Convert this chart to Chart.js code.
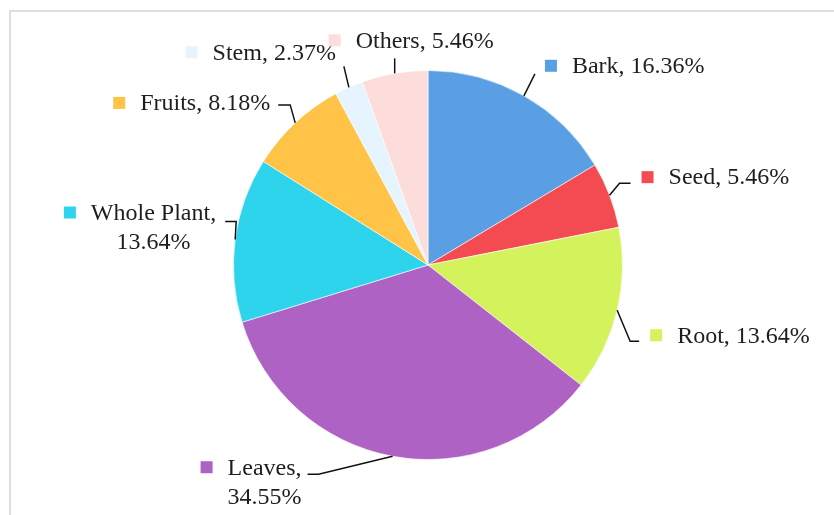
<!DOCTYPE html>
<html>
<head>
<meta charset="utf-8">
<script src="https://cdn.jsdelivr.net/npm/chart.js@4/dist/chart.umd.min.js"></script>
<style>
  html, body { margin: 0; padding: 0; background: #fff; }
  .canvas { position: relative; width: 834px; height: 515px; }
</style>
</head>
<body>
<div class="canvas">
  <canvas id="chart" width="834" height="515"></canvas>
</div>
<script>
const labels = ['Bark', 'Seed', 'Root', 'Leaves', 'Whole Plant', 'Fruits', 'Stem', 'Others']
const shares = [16.36, 5.46, 13.64, 34.55, 13.64, 8.18, 2.37, 5.46]
const colors = ['#5a9fe3', '#f44b52', '#d4f25c', '#ae62c4', '#2ed3ec', '#ffc347', '#e6f4fd', '#fddcdc']

// leader line + label placement, relative to the point on the rim at mid angle
const labelLayout = [
  { elbow: [11, -22], tail: 0, at: [10, -8], align: 'left', split: false },
  { elbow: [10, -12], tail: 11, at: [11, -6], align: 'left', split: false },
  { elbow: [13, 31], tail: 9, at: [11, -6], align: 'left', split: false },
  { elbow: [-74, 18], tail: -11, at: [-6, -7], align: 'right', split: true },
  { elbow: [1, -18], tail: -11, at: [-9, -9], align: 'right', split: true },
  { elbow: [-5, -18], tail: -12, at: [-8, -2], align: 'right', split: false },
  { elbow: [-5, -21], tail: 0, at: [-8, -14], align: 'right', split: false },
  { elbow: [0, -15], tail: 0, at: [-66, -18], align: 'left', split: false }
]

const FONT = '24px "Liberation Serif", "Times New Roman", serif'
const LINE_H = 29
const BOX = 12
const GAP = 15

const framePlugin = {
  id: 'frame',
  beforeDraw (chart) {
    const ctx = chart.ctx
    ctx.save()
    ctx.strokeStyle = '#dedede'
    ctx.lineWidth = 2
    ctx.beginPath()
    ctx.moveTo(10, chart.height)
    ctx.lineTo(10, 11)
    ctx.lineTo(chart.width, 11)
    ctx.stroke()
    ctx.restore()
  }
}

const calloutPlugin = {
  id: 'callouts',
  afterDatasetsDraw (chart) {
    const ctx = chart.ctx
    const meta = chart.getDatasetMeta(0)
    ctx.save()
    ctx.font = FONT
    ctx.textBaseline = 'middle'
    meta.data.forEach((arc, i) => {
      const lay = labelLayout[i]
      const p = arc.getProps(['x', 'y', 'startAngle', 'endAngle', 'outerRadius'], true)
      const mid = (p.startAngle + p.endAngle) / 2
      const sx = p.x + Math.cos(mid) * p.outerRadius
      const sy = p.y + Math.sin(mid) * p.outerRadius
      const ex = sx + lay.elbow[0]
      const ey = sy + lay.elbow[1]
      const tx = ex + lay.tail
      // leader line
      ctx.strokeStyle = '#111'
      ctx.lineWidth = 1.5
      ctx.beginPath()
      ctx.moveTo(sx, sy)
      ctx.lineTo(ex, ey)
      if (lay.tail) ctx.lineTo(tx, ey)
      ctx.stroke()

      const pct = shares[i].toFixed(2) + '%'
      const lines = lay.split ? [labels[i] + ',', pct] : [labels[i] + ', ' + pct]
      const textW = Math.max(...lines.map(l => ctx.measureText(l).width))
      const blockW = BOX + GAP + textW
      const lx = lay.align === 'left' ? tx + lay.at[0] : tx + lay.at[0] - blockW
      const ly = ey + lay.at[1]
      ctx.fillStyle = colors[i]
      ctx.fillRect(lx, ly - BOX / 2, BOX, BOX)
      ctx.fillStyle = '#1e1e1e'
      ctx.textAlign = 'center'
      const cx = lx + BOX + GAP + textW / 2
      lines.forEach((l, k) => ctx.fillText(l, cx, ly + k * LINE_H + 1))
    })
    ctx.restore()
  }
}

new Chart(document.getElementById('chart').getContext('2d'), {
  type: 'pie',
  data: {
    labels,
    datasets: [{
      data: shares,
      backgroundColor: colors,
      borderColor: 'rgba(255,255,255,0.6)',
      borderWidth: 1
    }]
  },
  options: {
    responsive: false,
    animation: false,
    layout: { padding: { top: 70, bottom: 55, left: 233, right: 211 } },
    plugins: {
      legend: { display: false },
      tooltip: { enabled: false }
    }
  },
  plugins: [framePlugin, calloutPlugin]
})
</script>
</body>
</html>
